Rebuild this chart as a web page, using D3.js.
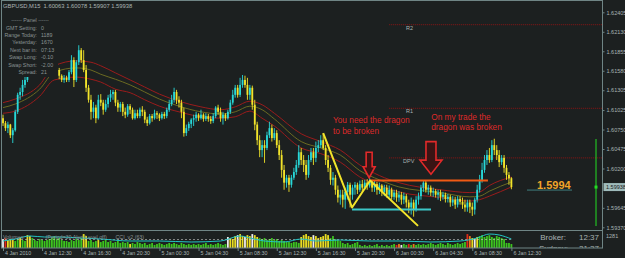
<!DOCTYPE html>
<html>
<head>
<meta charset="utf-8">
<script src="https://cdn.jsdelivr.net/npm/d3@7"></script>
<style>
  html, body { margin: 0; padding: 0; background: #1c2020; }
  svg { display: block; }
  text { font-family: 'Liberation Sans', Arial, sans-serif; }
</style>
</head>
<body>
<svg id="main_chart" width="625" height="258"></svg>
<script>
const symbolTitle = 'GBPUSD,M15  1.60063 1.60078 1.59907 1.59938';
const timeLabels = ['4 Jan 2010', '4 Jan 12:30', '4 Jan 16:30', '4 Jan 20:30', '5 Jan 00:30', '5 Jan 04:30', '5 Jan 08:30',
  '5 Jan 12:30', '5 Jan 16:30', '5 Jan 20:30', '6 Jan 00:30', '6 Jan 04:30', '6 Jan 08:30', '6 Jan 12:30'];
const timeTickBars = [0, 16, 32, 48, 64, 80, 96, 112, 128, 144, 160, 176, 192, 208];
const priceTicks = [1.62405, 1.62130, 1.61855, 1.61580, 1.61305, 1.61025, 1.60750, 1.60475, 1.60200, 1.59645, 1.59370];
const lastPrice = 1.59938;
const lastPriceShort = '1.5994';

// open, high, low, close per M15 bar
const candles = [
  [1.6091,1.6096,1.6080,1.6084],[1.6084,1.6087,1.6073,1.6077],[1.6077,1.6086,1.6070,1.6082],[1.6082,1.6083,1.6063,1.6067],
  [1.6067,1.6077,1.6056,1.6074],[1.6074,1.6103,1.6072,1.6100],[1.6100,1.6127,1.6097,1.6124],[1.6124,1.6134,1.6117,1.6128],
  [1.6128,1.6145,1.6122,1.6138],[1.6138,1.6151,1.6134,1.6145],[1.6145,1.6165,1.6142,1.6159],[1.6159,1.6173,1.6156,1.6166],
  [1.6166,1.6173,1.6156,1.6162],[1.6162,1.6176,1.6159,1.6170],[1.6170,1.6176,1.6159,1.6165],[1.6165,1.6180,1.6162,1.6173],
  [1.6173,1.6177,1.6162,1.6168],[1.6168,1.6182,1.6165,1.6176],[1.6176,1.6180,1.6165,1.6170],[1.6170,1.6173,1.6159,1.6165],
  [1.6165,1.6169,1.6153,1.6159],[1.6159,1.6166,1.6155,1.6162],[1.6162,1.6165,1.6153,1.6159],[1.6159,1.6162,1.6146,1.6151],
  [1.6151,1.6153,1.6142,1.6145],[1.6145,1.6152,1.6141,1.6148],[1.6148,1.6151,1.6142,1.6145],[1.6145,1.6159,1.6142,1.6156],
  [1.6156,1.6180,1.6153,1.6173],[1.6173,1.6177,1.6135,1.6145],[1.6145,1.6173,1.6142,1.6170],[1.6170,1.6194,1.6166,1.6187],
  [1.6187,1.6190,1.6169,1.6173],[1.6173,1.6187,1.6156,1.6159],[1.6159,1.6166,1.6128,1.6134],[1.6134,1.6138,1.6113,1.6117],
  [1.6117,1.6124,1.6089,1.6100],[1.6100,1.6114,1.6091,1.6106],[1.6106,1.6110,1.6084,1.6091],[1.6091,1.6124,1.6089,1.6117],
  [1.6117,1.6125,1.6108,1.6113],[1.6113,1.6117,1.6096,1.6103],[1.6103,1.6117,1.6100,1.6111],[1.6111,1.6124,1.6106,1.6120],
  [1.6120,1.6131,1.6114,1.6125],[1.6125,1.6131,1.6117,1.6128],[1.6128,1.6131,1.6108,1.6113],[1.6113,1.6117,1.6100,1.6106],
  [1.6106,1.6114,1.6100,1.6111],[1.6111,1.6114,1.6094,1.6100],[1.6100,1.6106,1.6091,1.6096],[1.6096,1.6111,1.6093,1.6108],
  [1.6108,1.6111,1.6097,1.6103],[1.6103,1.6106,1.6089,1.6091],[1.6091,1.6103,1.6089,1.6098],[1.6098,1.6103,1.6091,1.6094],
  [1.6094,1.6106,1.6091,1.6103],[1.6103,1.6108,1.6094,1.6100],[1.6100,1.6103,1.6084,1.6089],[1.6089,1.6093,1.6080,1.6084],
  [1.6084,1.6097,1.6082,1.6094],[1.6094,1.6097,1.6086,1.6091],[1.6091,1.6103,1.6089,1.6098],[1.6098,1.6101,1.6090,1.6096],
  [1.6096,1.6098,1.6087,1.6091],[1.6091,1.6100,1.6089,1.6097],[1.6097,1.6100,1.6090,1.6094],[1.6094,1.6106,1.6091,1.6103],
  [1.6103,1.6117,1.6100,1.6111],[1.6111,1.6124,1.6108,1.6117],[1.6117,1.6134,1.6113,1.6128],[1.6128,1.6131,1.6111,1.6117],
  [1.6117,1.6122,1.6106,1.6113],[1.6113,1.6117,1.6091,1.6100],[1.6100,1.6106,1.6065,1.6070],[1.6070,1.6082,1.6066,1.6077],
  [1.6077,1.6086,1.6073,1.6083],[1.6083,1.6091,1.6077,1.6089],[1.6089,1.6096,1.6080,1.6091],[1.6091,1.6100,1.6086,1.6096],
  [1.6096,1.6098,1.6087,1.6091],[1.6091,1.6103,1.6089,1.6096],[1.6096,1.6098,1.6086,1.6090],[1.6090,1.6098,1.6087,1.6094],
  [1.6094,1.6097,1.6086,1.6090],[1.6090,1.6094,1.6083,1.6087],[1.6087,1.6098,1.6084,1.6094],[1.6094,1.6108,1.6091,1.6106],
  [1.6106,1.6110,1.6096,1.6100],[1.6100,1.6106,1.6086,1.6091],[1.6091,1.6100,1.6082,1.6096],[1.6096,1.6098,1.6087,1.6091],
  [1.6091,1.6103,1.6089,1.6100],[1.6100,1.6117,1.6097,1.6113],[1.6113,1.6131,1.6110,1.6124],[1.6124,1.6138,1.6120,1.6134],
  [1.6134,1.6138,1.6120,1.6124],[1.6124,1.6148,1.6121,1.6138],[1.6138,1.6152,1.6134,1.6145],[1.6145,1.6151,1.6134,1.6138],
  [1.6138,1.6148,1.6117,1.6124],[1.6124,1.6138,1.6117,1.6134],[1.6134,1.6137,1.6103,1.6110],[1.6110,1.6117,1.6074,1.6082],
  [1.6082,1.6086,1.6053,1.6060],[1.6060,1.6067,1.6036,1.6046],[1.6046,1.6060,1.6036,1.6053],[1.6053,1.6060,1.6028,1.6049],
  [1.6049,1.6072,1.6046,1.6067],[1.6067,1.6086,1.6063,1.6077],[1.6077,1.6082,1.6058,1.6063],[1.6063,1.6077,1.6060,1.6070],
  [1.6070,1.6074,1.6049,1.6053],[1.6053,1.6060,1.6032,1.6039],[1.6039,1.6046,1.6007,1.6018],[1.6018,1.6025,1.5990,1.6000],
  [1.6000,1.6011,1.5993,1.6007],[1.6007,1.6011,1.5987,1.5997],[1.5997,1.6011,1.5993,1.6007],[1.6007,1.6021,1.6004,1.6015],
  [1.6015,1.6032,1.6011,1.6025],[1.6025,1.6053,1.6021,1.6043],[1.6043,1.6049,1.6025,1.6032],[1.6032,1.6039,1.6015,1.6025],
  [1.6025,1.6032,1.6004,1.6011],[1.6011,1.6039,1.6007,1.6032],[1.6032,1.6049,1.6029,1.6043],[1.6043,1.6049,1.6025,1.6035],
  [1.6035,1.6058,1.6029,1.6049],[1.6049,1.6060,1.6043,1.6053],[1.6053,1.6067,1.6049,1.6060],[1.6060,1.6070,1.6046,1.6049],
  [1.6049,1.6053,1.6025,1.6032],[1.6032,1.6039,1.6015,1.6021],[1.6021,1.6025,1.5997,1.6004],[1.6004,1.6015,1.5996,1.6007],
  [1.6007,1.6011,1.5983,1.5990],[1.5990,1.5996,1.5972,1.5979],[1.5979,1.5990,1.5969,1.5983],[1.5983,1.5990,1.5965,1.5976],
  [1.5976,1.5993,1.5963,1.5987],[1.5987,1.6001,1.5976,1.5997],[1.5997,1.6000,1.5965,1.5983],[1.5983,1.5997,1.5976,1.5993],
  [1.5993,1.6001,1.5983,1.5997],[1.5997,1.6000,1.5984,1.5990],[1.5990,1.6003,1.5987,1.5998],[1.5998,1.6004,1.5987,1.5993],
  [1.5993,1.6004,1.5990,1.6000],[1.6000,1.6005,1.5990,1.5996],[1.5996,1.6007,1.5993,1.6001],[1.6001,1.6004,1.5987,1.5993],
  [1.5993,1.6003,1.5987,1.5998],[1.5998,1.6001,1.5983,1.5990],[1.5990,1.6000,1.5984,1.5996],[1.5996,1.5998,1.5981,1.5987],
  [1.5987,1.5997,1.5981,1.5993],[1.5993,1.5997,1.5979,1.5983],[1.5983,1.5996,1.5979,1.5990],[1.5990,1.5993,1.5976,1.5980],
  [1.5980,1.5990,1.5976,1.5986],[1.5986,1.5990,1.5973,1.5979],[1.5979,1.5988,1.5973,1.5983],[1.5983,1.5987,1.5969,1.5976],
  [1.5976,1.5986,1.5970,1.5981],[1.5981,1.5984,1.5965,1.5972],[1.5972,1.5976,1.5957,1.5965],[1.5965,1.5979,1.5955,1.5972],
  [1.5972,1.5976,1.5952,1.5962],[1.5962,1.5981,1.5959,1.5976],[1.5976,1.5986,1.5969,1.5981],[1.5981,1.5997,1.5976,1.5993],
  [1.5993,1.6003,1.5987,1.6000],[1.6000,1.6003,1.5986,1.5990],[1.5990,1.5997,1.5983,1.5993],[1.5993,1.5996,1.5981,1.5986],
  [1.5986,1.5993,1.5980,1.5988],[1.5988,1.5991,1.5979,1.5983],[1.5983,1.5990,1.5976,1.5986],[1.5986,1.5990,1.5974,1.5980],
  [1.5980,1.5987,1.5976,1.5983],[1.5983,1.5986,1.5972,1.5977],[1.5977,1.5984,1.5972,1.5980],[1.5980,1.5983,1.5966,1.5972],
  [1.5972,1.5981,1.5967,1.5976],[1.5976,1.5980,1.5963,1.5969],[1.5969,1.5981,1.5965,1.5977],[1.5977,1.5981,1.5969,1.5973],
  [1.5973,1.5979,1.5963,1.5969],[1.5969,1.5976,1.5959,1.5965],[1.5965,1.5976,1.5959,1.5972],[1.5972,1.5976,1.5957,1.5966],
  [1.5966,1.5972,1.5953,1.5962],[1.5962,1.5979,1.5955,1.5976],[1.5976,1.5997,1.5972,1.5990],[1.5990,1.6011,1.5986,1.6004],
  [1.6004,1.6028,1.6000,1.6018],[1.6018,1.6039,1.6014,1.6032],[1.6032,1.6046,1.6025,1.6039],[1.6039,1.6049,1.6028,1.6032],
  [1.6032,1.6060,1.6029,1.6053],[1.6053,1.6062,1.6039,1.6046],[1.6046,1.6053,1.6032,1.6039],[1.6039,1.6046,1.6022,1.6029],
  [1.6029,1.6039,1.6025,1.6035],[1.6035,1.6039,1.6014,1.6021],[1.6021,1.6025,1.6004,1.6011],[1.6011,1.6015,1.5997,1.6006],
  [1.60063,1.60078,1.59907,1.59938]
];

// "dragon" band: moving averages of highs, closes and lows, sampled at bar indices
const maBars = [0, 5, 15, 21, 30, 36, 40, 46, 52, 58, 64, 72, 81, 89, 95, 101, 106, 111, 122, 130, 138, 146, 154, 162, 179, 191, 195, 199, 208];
const maUpper = [1.6113, 1.6118, 1.6138, 1.6165, 1.6172, 1.6170, 1.6165, 1.6155, 1.6145, 1.6135, 1.6125, 1.6115, 1.6107, 1.6103, 1.6107,
  1.6115, 1.6110, 1.6098, 1.6069, 1.6058, 1.6046, 1.6025, 1.6010, 1.6000, 1.5990, 1.5986, 1.5987, 1.5996, 1.6008];
const maMiddle = [1.6106, 1.6111, 1.6132, 1.6156, 1.6162, 1.6159, 1.6153, 1.6146, 1.6138, 1.6128, 1.6118, 1.6108, 1.6100, 1.6097, 1.6100,
  1.6108, 1.6103, 1.6090, 1.6058, 1.6049, 1.6039, 1.6017, 1.6004, 1.5994, 1.5986, 1.5980, 1.5981, 1.5988, 1.6001];
const maLower = [1.6098, 1.6101, 1.6122, 1.6145, 1.6149, 1.6146, 1.6142, 1.6132, 1.6127, 1.6117, 1.6108, 1.6100, 1.6093, 1.6091, 1.6093,
  1.6101, 1.6091, 1.6080, 1.6049, 1.6041, 1.6029, 1.6008, 1.5996, 1.5987, 1.5979, 1.5974, 1.5976, 1.5981, 1.5994];

const pivotNames = ['R2', 'R1', 'DPV'];
const pivotPrices = [1.6223, 1.6105, 1.6035];
const pivotStartBar = 158;

const panelLabels = ['GMT Setting:', 'Range Today:', 'Yesterday:', 'Next bar in:', 'Swap Long:', 'Swap Short:', 'Spread:'];
const panelValues = ['0', '1189', '1670', '07:13', '-0.10', '-2.00', '21'];

// trader's drawings: [bar, price] vertices
const dragonZigzag = [[131, 1.6070], [142.8, 1.5965], [150.2, 1.6003], [169.8, 1.5939]];
const breakLine = [[150.2, 1.6003], [198.4, 1.6003]];
const supportLine = [[142.8, 1.5962], [175.1, 1.5962]];
const arrowTips = [[149.8, 1.6007, 1.6043], [175.1, 1.6012, 1.6058]];
const noteLeft = ['You need the dragon', 'to be broken'];
const noteRight = ['On my trade the', 'dragon was broken'];
const noteAnchors = [[135, 1.6084], [175.2, 1.6089]];

const volumes = [770, 850, 680, 760, 680, 600, 770, 850, 680, 600, 1100, 1020, 850, 680, 600, 770, 680, 600, 680, 770,
  850, 1020, 770, 850, 680, 600, 600, 510, 680, 600, 770, 680, 850, 1190, 1020, 600, 680, 510, 600, 680,
  510, 600, 680, 510, 600, 430, 510, 600, 430, 510, 430, 510, 340, 430, 340, 510, 430, 340, 430, 260,
  340, 430, 260, 340, 430, 340, 260, 340, 430, 340, 430, 340, 260, 430, 340, 260, 340, 260, 340, 260,
  340, 260, 340, 430, 260, 340, 260, 340, 430, 340, 260, 340, 940, 850, 770, 1020, 1100, 1190, 1020, 940,
  1100, 1020, 1190, 1100, 940, 850, 770, 850, 680, 770, 850, 680, 770, 600, 680, 600, 510, 510, 430, 510,
  510, 430, 940, 1100, 1190, 1020, 940, 1100, 1020, 850, 940, 1020, 1190, 1100, 850, 1020, 770, 680, 600, 430,
  340, 430, 260, 340, 430, 510, 260, 170, 260, 170, 260, 170, 260, 340, 170, 260, 170, 260, 170, 260,
  340, 260, 340, 260, 340, 260, 340, 260, 340, 260, 340, 260, 340, 260, 340, 430, 340, 260, 340, 430,
  340, 260, 430, 340, 260, 340, 430, 340, 430, 510, 1190, 1020, 850, 770, 940, 1020, 1100, 940, 1020, 1100,
  940, 850, 1020, 940, 850, 770, 430, 430, 340];
const volumeKinds = 'wryyyggygg' + 'yygggggggg' + 'gggggggggg' + 'gggyyggggy' + 'gggggggggg' + 'ggyggggggg' +
  'gggggggggg' + 'gggggggggg' + 'gggggggggg' + 'ggwyyywyyw' + 'yywyyggggg' + 'gggggggggg' + 'ggyyyyywyy' +
  'yyyygggggg' + 'gggggggggg' + 'gggggggggg' + 'growggrgog' + 'gggggggggg' + 'gggggggggg' + 'roywyggggg' + 'ggggggggg';
const volumeMax = 1281;
const cciBars = [0, 5, 11, 17, 23, 32, 40, 52, 64, 77, 89, 97, 101, 107, 115, 122, 128, 138, 150, 162, 175, 187, 194, 199, 203, 208];
const cciValues = [-53, 18, 124, 88, 88, 53, 18, -53, -53, -88, -53, 124, 53, -53, -88, 18, -53, -18, -53, -53, -88, -53, 53, 194, 159, 18];

(function() {
  const svg = d3.select('#main_chart');
  const bg = '#1c2020';
  const frame = '#6f8585';
  const axisText = '#aab4b4';
  const plotRight = 602.5;
  const volTop = 230.5;
  const volBottom = 248;

  const xScale = d3.scaleLinear().domain([0, 208]).range([3, 511.4]);
  const yScale = d3.scaleLinear().domain([1.59370, 1.62405]).range([227.3, 12.3]);
  const volScale = d3.scaleLinear().domain([0, volumeMax]).range([volBottom, 233]);
  const cciScale = d3.scaleLinear().domain([-300, 300]).range([volBottom, 231]);

  svg.append('rect').attr('width', 625).attr('height', 258).attr('fill', bg);

  const defs = svg.append('defs');
  defs.append('clipPath').attr('id', 'clip_main').append('rect')
    .attr('x', 1).attr('y', 1).attr('width', plotRight - 1).attr('height', volTop - 1);
  defs.append('clipPath').attr('id', 'clip_vol').append('rect')
    .attr('x', 1).attr('y', volTop + 0.5).attr('width', plotRight - 1).attr('height', volBottom - volTop - 0.5);

  const main = svg.append('g').attr('clip-path', 'url(#clip_main)');

  // pivot levels
  const pivots = main.selectAll('g.pivot').data(pivotPrices).enter().append('g').attr('class', 'pivot');
  pivots.append('line')
    .attr('x1', xScale(pivotStartBar)).attr('x2', plotRight)
    .attr('y1', function(d) { return yScale(d); }).attr('y2', function(d) { return yScale(d); })
    .attr('stroke', '#8c1414').attr('stroke-width', 1).attr('stroke-dasharray', '1,1');
  pivots.append('text')
    .attr('x', function(d, i) { return i === 2 ? 403 : 406; })
    .attr('y', function(d) { return yScale(d) + 5; })
    .attr('font-size', 5.5).attr('fill', axisText)
    .text(function(d, i) { return pivotNames[i]; });

  // dragon band
  const maLine = d3.line().curve(d3.curveMonotoneX)
    .x(function(d, i) { return xScale(maBars[i]); })
    .y(function(d) { return yScale(d); });
  [[maUpper, '#9a1c1c'], [maMiddle, '#6b6a22'], [maLower, '#9a1c1c']].forEach(function(s) {
    main.append('path').attr('d', maLine(s[0])).attr('fill', 'none')
      .attr('stroke', s[1]).attr('stroke-width', 1);
  });

  // candles
  const bull = '#28d8d8';
  const bear = '#f2e42a';
  const candle = main.selectAll('g.candle').data(candles).enter().append('g').attr('class', 'candle');
  candle.append('line')
    .attr('x1', function(d, i) { return xScale(i); }).attr('x2', function(d, i) { return xScale(i); })
    .attr('y1', function(d) { return yScale(d[1]); }).attr('y2', function(d) { return yScale(d[2]); })
    .attr('stroke', function(d) { return d[3] >= d[0] ? bull : bear; }).attr('stroke-width', 0.9);
  candle.append('rect')
    .attr('x', function(d, i) { return xScale(i) - 0.9; }).attr('width', 1.8)
    .attr('y', function(d) { return yScale(Math.max(d[0], d[3])); })
    .attr('height', function(d) { return Math.max(1, Math.abs(yScale(d[0]) - yScale(d[3]))); })
    .attr('fill', function(d) { return d[3] >= d[0] ? bull : bear; });

  // drawings
  const drawLine = d3.line()
    .x(function(d) { return xScale(d[0]); })
    .y(function(d) { return yScale(d[1]); });
  main.append('path').attr('d', drawLine(supportLine)).attr('stroke', '#3cc8c8').attr('stroke-width', 2).attr('fill', 'none');
  main.append('path').attr('d', drawLine(breakLine)).attr('stroke', '#f05a14').attr('stroke-width', 2).attr('fill', 'none');
  main.append('path').attr('d', drawLine(dragonZigzag)).attr('stroke', '#f2e42a').attr('stroke-width', 2)
    .attr('fill', 'none').attr('stroke-linejoin', 'round');

  const arrowSizes = [[3, 6, 11], [5, 11, 14]];
  main.selectAll('path.arrow').data(arrowTips).enter().append('path').attr('class', 'arrow')
    .attr('d', function(d, i) {
      const x = xScale(d[0]), tip = yScale(d[1]), top = yScale(d[2]);
      const s = arrowSizes[i][0], h = arrowSizes[i][1], hh = arrowSizes[i][2];
      return 'M' + (x - s) + ',' + top + 'H' + (x + s) + 'V' + (tip - hh) + 'H' + (x + h) +
        'L' + x + ',' + tip + 'L' + (x - h) + ',' + (tip - hh) + 'H' + (x - s) + 'Z';
    })
    .attr('fill', '#3a1414').attr('stroke', '#e22a2a').attr('stroke-width', 1.6);

  [noteLeft, noteRight].forEach(function(lines, k) {
    main.append('text')
      .attr('x', xScale(noteAnchors[k][0])).attr('y', yScale(noteAnchors[k][1]))
      .attr('font-size', 8.3).attr('fill', '#de2a2a')
      .selectAll('tspan').data(lines).enter().append('tspan')
      .attr('x', xScale(noteAnchors[k][0])).attr('dy', function(d, i) { return i === 0 ? 0 : (k === 0 ? 11 : 10.5); })
      .text(function(d) { return d; });
  });

  // last price label
  main.append('line').attr('x1', 527).attr('x2', 572)
    .attr('y1', yScale(lastPrice) + 3).attr('y2', yScale(lastPrice) + 3)
    .attr('stroke', '#3e7c7c').attr('stroke-width', 1);
  main.append('text').attr('x', 537).attr('y', yScale(lastPrice) + 1.5)
    .attr('font-size', 11).attr('font-weight', 'bold').attr('fill', '#f0a42a')
    .text(lastPriceShort);

  // spread bar
  main.append('line').attr('x1', 596).attr('x2', 596).attr('y1', 139).attr('y2', 226)
    .attr('stroke', '#22dd22').attr('stroke-width', 1);
  main.append('rect').attr('x', 594.5).attr('y', yScale(lastPrice) - 1.5).attr('width', 3).attr('height', 3).attr('fill', '#22dd22');

  // info panel
  svg.append('rect').attr('x', 1).attr('y', 13).attr('width', 57).attr('height', 64).attr('fill', bg);
  svg.append('text').attr('x', 3).attr('y', 8).attr('font-size', 5.8).attr('fill', axisText).attr('xml:space', 'preserve')
    .text(symbolTitle);
  svg.append('text').attr('x', 30).attr('y', 22).attr('font-size', 5.3).attr('fill', '#8a9494')
    .attr('text-anchor', 'middle').text('------ Panel ------');
  svg.selectAll('text.panel_label').data(panelLabels).enter().append('text').attr('class', 'panel_label')
    .attr('x', 37).attr('y', function(d, i) { return 29.5 + i * 7.4; })
    .attr('font-size', 5.3).attr('fill', '#8a9494').attr('text-anchor', 'end')
    .text(function(d) { return d; });
  svg.selectAll('text.panel_value').data(panelValues).enter().append('text').attr('class', 'panel_value')
    .attr('x', 41).attr('y', function(d, i) { return 29.5 + i * 7.4; })
    .attr('font-size', 5.3).attr('fill', '#8a9494')
    .text(function(d) { return d; });

  // volume window
  const vol = svg.append('g').attr('clip-path', 'url(#clip_vol)');
  const kindColor = { g: '#3cc41e', y: '#e8dc22', w: '#eeeeee', r: '#e02818', o: '#f07a18' };
  vol.selectAll('rect.vol').data(volumes).enter().append('rect').attr('class', 'vol')
    .attr('x', function(d, i) { return xScale(i) - 0.9; }).attr('width', 1.8)
    .attr('y', function(d) { return volScale(d); })
    .attr('height', function(d) { return volBottom - volScale(d); })
    .attr('fill', function(d, i) { return kindColor[volumeKinds[i]]; });
  vol.append('line').attr('x1', 1).attr('x2', xScale(candles.length - 1)).attr('y1', cciScale(0)).attr('y2', cciScale(0))
    .attr('stroke', '#c8c8c8').attr('stroke-width', 0.6).attr('stroke-dasharray', '2,2');
  vol.append('path')
    .attr('d', d3.line().curve(d3.curveMonotoneX)
      .x(function(d, i) { return xScale(cciBars[i]); })
      .y(function(d) { return cciScale(d); })(cciValues))
    .attr('fill', 'none').attr('stroke', '#22c4c4').attr('stroke-width', 1);
  vol.append('text').attr('x', 3).attr('y', 239).attr('font-size', 5.3).attr('fill', '#8a9494')
    .attr('xml:space', 'preserve')
    .text('Volumes               (Period=30 Alert Level off)      CCI_v2 (63)');
  vol.append('text').attr('x', 566).attr('y', 240).attr('font-size', 8).attr('fill', '#a8b2b2')
    .attr('text-anchor', 'end').text('Broker:');
  vol.append('text').attr('x', 579).attr('y', 240).attr('font-size', 8).attr('fill', '#a8b2b2').text('12:37');
  vol.append('text').attr('x', 568).attr('y', 250.5).attr('font-size', 8).attr('fill', '#a8b2b2')
    .attr('text-anchor', 'end').text('Sydney:');
  vol.append('text').attr('x', 579).attr('y', 250.5).attr('font-size', 8).attr('fill', '#a8b2b2').text('21:37');

  // frame
  svg.append('rect').attr('x', 1.5).attr('y', 0.5).attr('width', plotRight - 1.5).attr('height', volBottom - 0.5)
    .attr('fill', 'none').attr('stroke', frame).attr('stroke-width', 1);
  svg.append('line').attr('x1', 1.5).attr('x2', plotRight).attr('y1', volTop).attr('y2', volTop)
    .attr('stroke', frame).attr('stroke-width', 1);

  // price axis
  const yAxis = svg.append('g').attr('transform', 'translate(' + plotRight + ',0)')
    .call(d3.axisRight(yScale).tickValues(priceTicks).tickFormat(d3.format('.5f')).tickSize(2).tickPadding(2));
  yAxis.select('.domain').remove();
  yAxis.selectAll('line').attr('stroke', frame);
  yAxis.selectAll('text').attr('fill', axisText).attr('font-size', 5.5)
    .attr('font-family', "'Liberation Sans', Arial, sans-serif");
  svg.append('rect').attr('x', plotRight + 1).attr('y', yScale(lastPrice) - 4).attr('width', 22).attr('height', 8)
    .attr('fill', '#9fbcbc');
  svg.append('text').attr('x', plotRight + 3.5).attr('y', yScale(lastPrice) + 2).attr('font-size', 5.5)
    .attr('fill', '#1c2020').text(d3.format('.5f')(lastPrice));
  svg.append('text').attr('x', plotRight + 3.5).attr('y', 238).attr('font-size', 5.5).attr('fill', axisText)
    .text(volumeMax);

  // time axis
  const xAxis = svg.append('g').attr('transform', 'translate(0,' + volBottom + ')')
    .call(d3.axisBottom(xScale).tickValues(timeTickBars).tickSize(3).tickPadding(1)
      .tickFormat(function(d, i) { return timeLabels[i]; }));
  xAxis.select('.domain').remove();
  xAxis.selectAll('line').attr('stroke', frame);
  xAxis.selectAll('text').attr('fill', axisText).attr('font-size', 5.3).attr('text-anchor', 'start')
    .attr('dx', 1.5).attr('dy', '0.5em').attr('font-family', "'Liberation Sans', Arial, sans-serif");
}());
</script>
</body>
</html>
